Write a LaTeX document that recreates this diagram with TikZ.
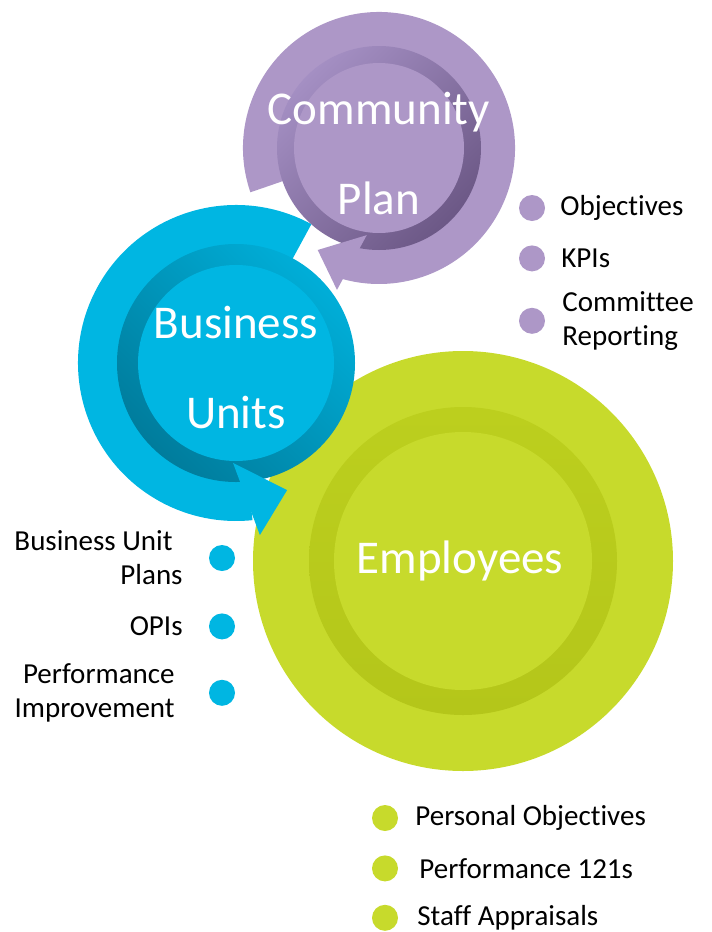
\documentclass[tikz,border=0pt]{standalone}
\usepackage{fontspec}
\setmainfont[Ligatures=NoCommon]{Carlito}
\usetikzlibrary{positioning}

\definecolor{plan}{RGB}{173,151,199}
\definecolor{planlight}{RGB}{164,143,195}
\definecolor{plandark}{RGB}{108,88,134}
\definecolor{units}{RGB}{0,182,226}
\definecolor{unitslight}{RGB}{0,174,216}
\definecolor{unitsdark}{RGB}{0,124,156}
\definecolor{staff}{RGB}{199,218,44}
\definecolor{stafflight}{RGB}{188,207,30}
\definecolor{staffdark}{RGB}{180,198,26}

\tikzstyle{heading} = [inner sep=0pt, align=center, text=white, font=\fontsize{47}{90}\selectfont]
\tikzstyle{bullettext} = [inner sep=0pt, text=black, font=\fontsize{29}{34}\selectfont]
\tikzstyle{plandot} = [circle, minimum size=26pt, inner sep=0pt, fill=plan]
\tikzstyle{unitdot} = [circle, minimum size=26pt, inner sep=0pt, fill=units]
\tikzstyle{staffdot} = [circle, minimum size=26pt, inner sep=0pt, fill=staff]

\begin{document}
\begin{tikzpicture}[x=1pt, y=1pt]
    \useasboundingbox (0,0) rectangle (712,-932);

    % Employees circle
    \begin{scope}[shift={(463,-561)}]
        \fill[staff] (0,0) circle[radius=210];
        \shade[top color=stafflight, bottom color=staffdark] (0,0) circle[radius=154];
        \fill[staff] (0,0) circle[radius=129];
        \node (employees) [heading] at (-3,0) {Employees};
    \end{scope}

    % Community Plan circle arrow
    \begin{scope}[shift={(379,-148)}]
        \fill[plan] (0,0) -- (199:136) arc[start angle=199, end angle=-106, radius=136] -- cycle;
        \shade[top color=planlight, bottom color=plandark, shading angle=45] (0,0) circle[radius=102];
        \fill[plan] (262:88) -- (239:119) -- (253.5:148) -- cycle;
        \fill[plan] (0,0) circle[radius=85];
        \node (community) [heading] at (0,-6) {Community\\Plan};
    \end{scope}

    % Business Units circle arrow
    \begin{scope}[shift={(236,-363)}]
        \fill[units] (0,0) -- (61.5:158) arc[start angle=61.5, end angle=276, radius=158] -- cycle;
        \shade[top color=unitslight, bottom color=unitsdark, shading angle=-45] (0,0) circle[radius=119];
        \fill[units] (268.3:100) -- (291.9:137) -- (277.9:173.7) -- cycle;
        \fill[units] (0,0) circle[radius=98];
        \node (business) [heading] at (0,-4) {Business\\Units};
    \end{scope}

    % Bullets
    \node (objdot) [plandot] at (532,-208) {};
    \node (kpidot) [plandot, below=24pt of objdot] {};
    \node (comdot) [plandot, below=36pt of kpidot] {};

    \node (bupdot) [unitdot] at (222,-558) {};
    \node (opidot) [unitdot, below=42pt of bupdot] {};
    \node (perdot) [unitdot, below=40pt of opidot] {};

    \node (podot) [staffdot] at (385,-818) {};
    \node (p121dot) [staffdot, below=24pt of podot] {};
    \node (sadot) [staffdot, below=23pt of p121dot] {};

    % Bullet texts
    \node (objtxt) [bullettext, right=15pt of objdot] {Objectives};
    \node (kpitxt) [bullettext, right=16pt of kpidot] {KPIs};
    \node (comtxt) [bullettext, right=17pt of comdot, align=left] {Committee\\Reporting};

    \node (buptxt) [bullettext, left=26pt of bupdot, align=right] {Business Unit\hspace*{10pt}\\Plans};
    \node (opitxt) [bullettext, left=26pt of opidot] {OPIs};
    \node (pertxt) [bullettext, left=34pt of perdot, align=right] {Performance\\Improvement};

    \node (potxt) [bullettext, right=17pt of podot] {Personal Objectives};
    \node (p121txt) [bullettext, right=21pt of p121dot] {Performance 121s};
    \node (satxt) [bullettext, right=19pt of sadot] {Staff Appraisals};
\end{tikzpicture}
\end{document}
